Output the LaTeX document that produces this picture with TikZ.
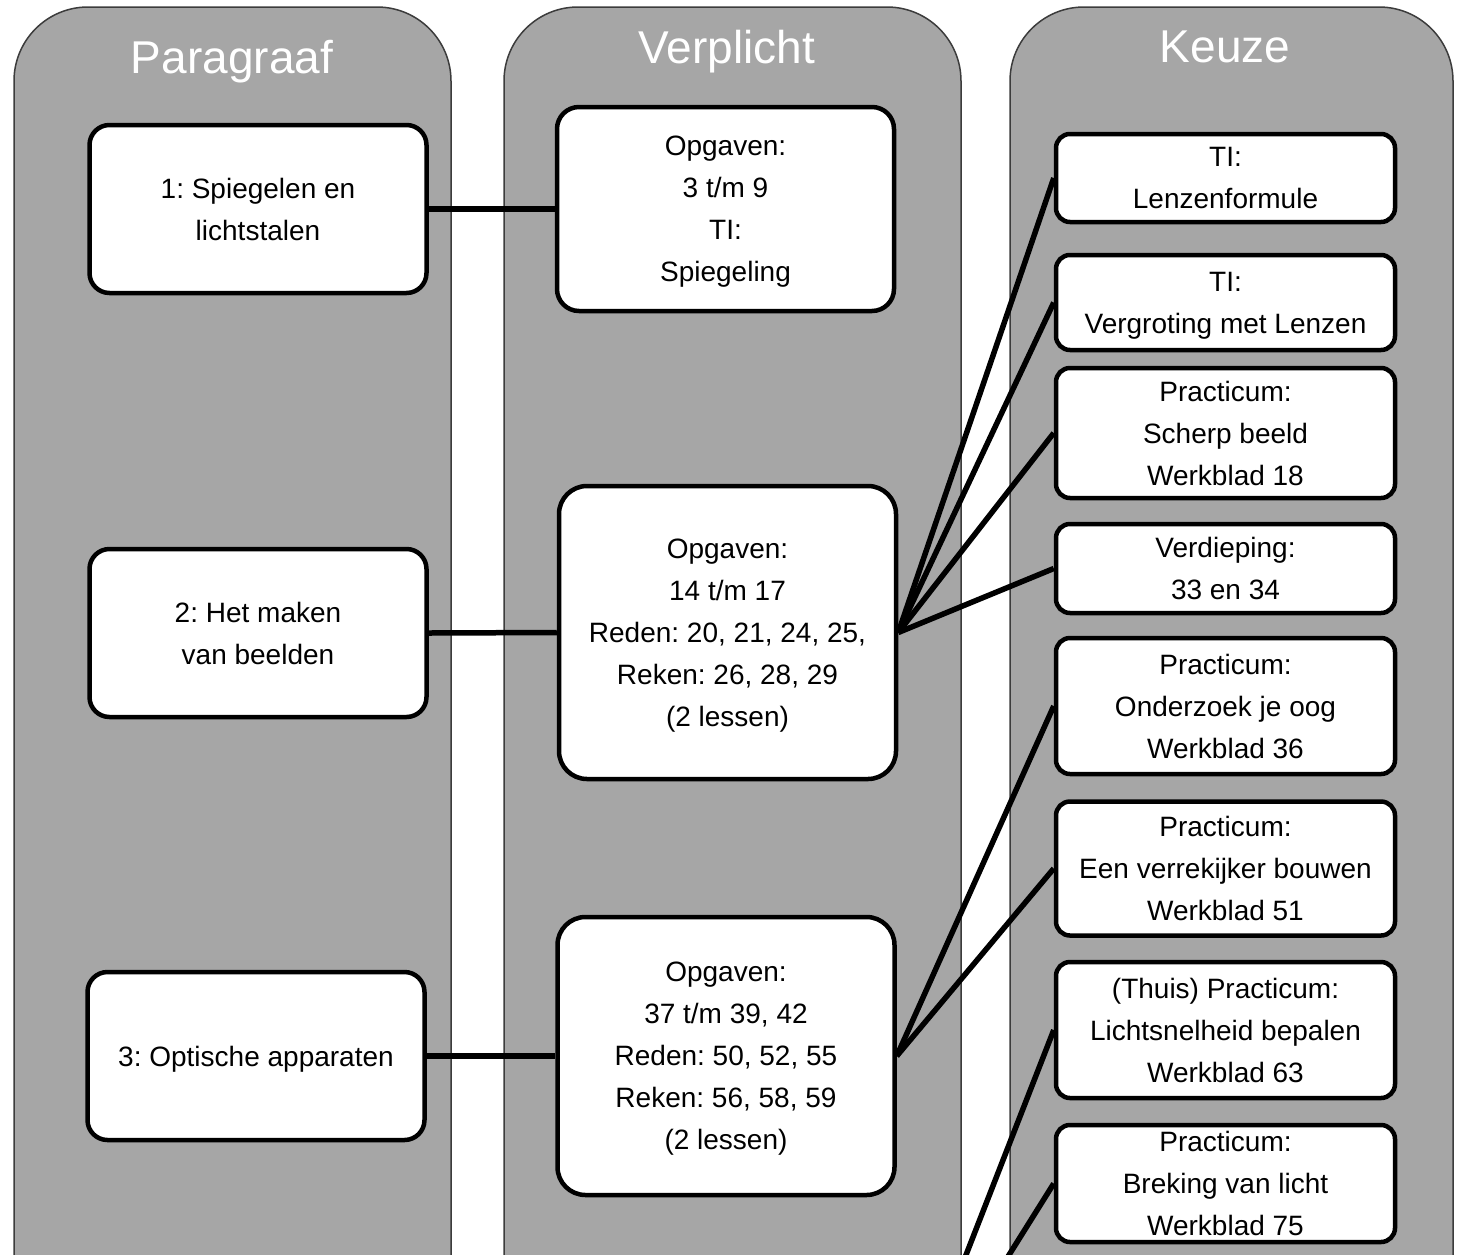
\documentclass[tikz,border=0pt]{standalone}
\usepackage{fontspec}
\setmainfont{Liberation Sans}
\frenchspacing
\definecolor{colgray}{RGB}{166,166,166}
\definecolor{coledge}{RGB}{60,60,60}
\begin{document}
\begin{tikzpicture}[x=1pt,y=-1pt,
  column/.style={fill=colgray,draw=coledge,line width=1.5pt,rounded corners=74pt},
  header/.style={text=white,font=\fontsize{46}{54}\selectfont,anchor=base,inner sep=0pt},
  box/.style={draw=black,fill=white,line width=4.5pt,align=center,inner sep=0pt,
    font=\fontsize{28}{42}\selectfont\frenchspacing,minimum width=337pt,text depth=0pt},
  pbox/.style={box,rounded corners=20pt,minimum height=168pt},
  vbox/.style={box,rounded corners=28pt},
  kbox/.style={box,rounded corners=14pt,minimum width=339pt},
  link/.style={draw=black,line width=5.5pt}
]
\useasboundingbox (0,0) rectangle (1465,1254);
\clip (0,0) rectangle (1465,1254);
\fill[white] (0,0) rectangle (1465,1254);

% columns
\path[column] (14,1320) -- (14,7) -- (451,7) -- (451,1320);
\path[column] (504,1320) -- (504,7) -- (961,7) -- (961,1320);
\path[column] (1010,1320) -- (1010,7) -- (1453,7) -- (1453,1320);

% headers
\node[header] (hpar) at (232,73) {Paragraaf};
\node[header] (hver) at (727,63) {Verplicht};
\node[header] (hkeu) at (1225,62) {Keuze};

% paragraaf
\node[pbox] (p1) at (258,209) {1: Spiegelen en\\lichtstalen};
\node[pbox] (p2) at (258,633) {2: Het maken\\van beelden};
\node[pbox] (p3) at (256,1056) {3: Optische apparaten};

% verplicht
\node[vbox,rounded corners=22pt,minimum height=204pt] (v1) at (725.5,209) {Opgaven:\\3 t/m 9\\TI:\\Spiegeling};
\node[vbox,minimum height=293pt] (v2) at (727.5,632.5) {Opgaven:\\14 t/m 17\\Reden: 20, 21, 24, 25,\\Reken: 26, 28, 29\\(2 lessen)};
\node[vbox,minimum height=278pt] (v3) at (726,1056) {Opgaven:\\37 t/m 39, 42\\Reden: 50, 52, 55\\Reken: 56, 58, 59\\(2 lessen)};
\coordinate (v4) at (895,1437);

% keuze
\node[kbox,minimum height=88pt] (k1) at (1225.5,178) {TI:\\Lenzenformule};
\node[kbox,minimum height=95pt] (k2) at (1225.5,302.5) {TI:\\Vergroting met Lenzen};
\node[kbox,minimum height=130pt] (k3) at (1225.5,433) {Practicum:\\Scherp beeld\\Werkblad 18};
\node[kbox,minimum height=89pt] (k4) at (1225.5,568.5) {Verdieping:\\33 en 34};
\node[kbox,minimum height=136pt] (k5) at (1225.5,706) {Practicum:\\Onderzoek je oog\\Werkblad 36};
\node[kbox,minimum height=134pt] (k6) at (1225.5,868.5) {Practicum:\\Een verrekijker bouwen\\Werkblad 51};
\node[kbox,minimum height=136pt] (k7) at (1225.5,1030) {(Thuis) Practicum:\\Lichtsnelheid bepalen\\Werkblad 63};
\node[kbox,minimum height=117pt] (k8) at (1225.5,1183.5) {Practicum:\\Breking van licht\\Werkblad 75};

% connectors
\draw[link] (p1.east) -- (v1.west);
\draw[link] (p2.east) -- (v2.west);
\draw[link] (p3.east) -- (v3.west);
\foreach \k in {k1,k2,k3,k4} \draw[link] (v2.east) -- (\k.west);
\foreach \k in {k5,k6} \draw[link] (v3.east) -- (\k.west);
\foreach \k in {k7,k8} \draw[link] (v4) -- (\k.west);
\end{tikzpicture}
\end{document}
